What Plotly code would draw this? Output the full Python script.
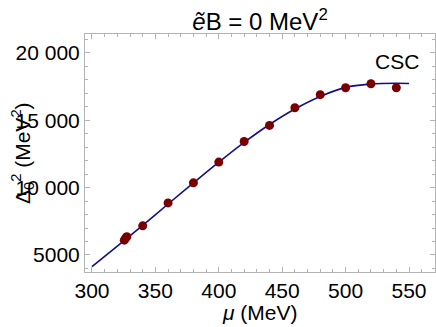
import plotly.graph_objects as go

# Data points (mu in MeV, Delta^2 in MeV^2)
mu_pts = [325.5, 326.5, 327.5, 340, 360, 380, 400, 420, 440, 460, 480, 500, 520, 540]
delta2_pts = [6100, 6250, 6350, 7160, 8860, 10350, 11890, 13420, 14610, 15920, 16890, 17400, 17700, 17400]

# Fit curve
mu_curve = [300, 320, 340, 360, 380, 400, 420, 440, 460, 480, 500, 520, 540, 550]
delta2_curve = [4130, 5650, 7200, 8780, 10340, 11880, 13350, 14680, 15830, 16760, 17430, 17680, 17740, 17720]

x_ticks = [300, 350, 400, 450, 500, 550]
y_ticks = [5000, 10000, 15000, 20000]
y_tick_text = ["5000", "10 000", "15 000", "20 000"]

font_family = "Liberation Sans, Arial, sans-serif"
frame_color = "#b4b4b4"
FS = 21

L, R, T, B = 85, 1, 34, 55
W, H = 436, 327
PW, PH = W - L - R, H - T - B

fig = go.Figure()
fig.add_trace(go.Scatter(x=mu_curve, y=delta2_curve, mode="lines",
                         line=dict(color="#10108a", width=1.6, shape="spline"),
                         showlegend=False, hoverinfo="skip"))
fig.add_trace(go.Scatter(x=mu_pts, y=delta2_pts, mode="markers",
                         marker=dict(color="#7a0000", size=9),
                         showlegend=False))

axis_common = dict(showline=True, linecolor=frame_color, linewidth=1, mirror="ticks",
                   ticks="inside", ticklen=5, tickcolor=frame_color, tickwidth=1,
                   showgrid=False, zeroline=False, automargin=False,
                   tickfont=dict(family=font_family, size=FS, color="black"))

fig.update_xaxes(range=[294.5, 570.5], tickvals=x_ticks,
                 minor=dict(ticks="inside", ticklen=3, dtick=10, tick0=300, tickcolor=frame_color, showgrid=False),
                 **axis_common)
fig.update_yaxes(range=[3737, 21390], tickvals=y_ticks, ticktext=y_tick_text,
                 minor=dict(ticks="inside", ticklen=3, dtick=1000, tick0=0, tickcolor=frame_color, showgrid=False),
                 **axis_common)

fig.add_annotation(x=540.5, y=19340, text="CSC", showarrow=False,
                   font=dict(family=font_family, size=FS, color="black"),
                   xanchor="center", yanchor="middle")

# axis titles
fig.add_annotation(x=0.5, xref="paper", y=-(312 - (H - B)) / PH, yref="paper", text="<i>μ</i> (MeV)",
                   showarrow=False, font=dict(family=font_family, size=FS, color="black"),
                   xanchor="center", yanchor="middle")
fig.add_annotation(x=(22 - L) / PW, xref="paper", y=0.5, yref="paper",
                   text="Δ<sub>0</sub><sup>2</sup> (MeV<sup>2</sup>)",
                   textangle=-90, showarrow=False, font=dict(family=font_family, size=FS, color="black"),
                   xanchor="center", yanchor="middle")

fig.update_layout(
    width=W, height=H,
    margin=dict(l=L, r=R, t=T, b=B),
    paper_bgcolor="white", plot_bgcolor="white",
    title=dict(text="<i>ẽ</i>B = 0 MeV<sup>2</sup>", x=(260 / W), xanchor="center",
               y=1 - 22 / H, yanchor="middle", yref="container",
               font=dict(family=font_family, size=24, color="black")),
)

fig.write_html("out.html", config={"displayModeBar": False},
               post_script="document.body.style.margin='0';document.body.style.padding='0';")
